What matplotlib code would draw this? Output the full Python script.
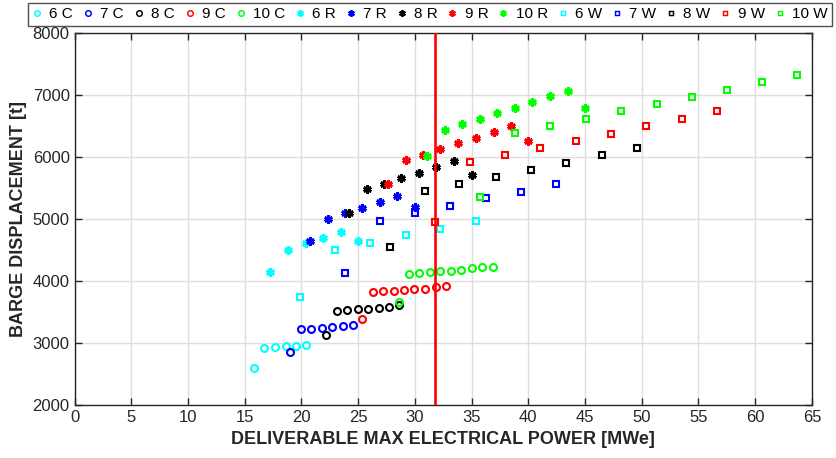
import matplotlib
matplotlib.use("Agg")
import matplotlib.pyplot as plt
from matplotlib.lines import Line2D

plt.rcParams['font.family'] = ['Liberation Sans', 'DejaVu Sans']

# ---- data ----
x6C = [15.82, 16.73, 17.69, 18.62, 19.55, 20.43]
y6C = [2600, 2930, 2940, 2950, 2960, 2970]
x7C = [19.02, 19.94, 20.85, 21.79, 22.72, 23.64, 24.55]
y7C = [2860, 3226, 3235, 3247, 3258, 3279, 3290]
x8C = [22.20, 23.17, 24.05, 24.99, 25.90, 26.84, 27.72, 28.63]
y8C = [3129, 3526, 3537, 3548, 3558, 3569, 3581, 3613]
x9C = [25.37, 26.29, 27.22, 28.14, 29.05, 29.96, 30.90, 31.84, 32.75]
y9C = [3392, 3823, 3839, 3848, 3860, 3871, 3881, 3903, 3924]
x10C = [28.58, 29.49, 30.40, 31.34, 32.25, 33.17, 34.10, 35.02, 35.93, 36.87]
y10C = [3666, 4118, 4129, 4145, 4171, 4161, 4177, 4215, 4226, 4235]

x6R = [17.26, 18.84, 20.38, 21.93, 23.47, 25.02]
y6R = [4155, 4505, 4618, 4703, 4795, 4655]
x7R = [20.76, 22.32, 23.87, 25.37, 26.90, 28.43, 29.99]
y7R = [4645, 5010, 5102, 5187, 5279, 5371, 5194]
x8R = [24.22, 25.76, 27.28, 28.81, 30.37, 31.90, 33.48, 35.04]
y8R = [5102, 5484, 5569, 5661, 5752, 5844, 5935, 5719]
x9R = [27.66, 29.20, 30.72, 32.25, 33.81, 35.40, 36.96, 38.48, 40.01]
y9R = [5565, 5952, 6042, 6134, 6226, 6316, 6408, 6500, 6263]
x10R = [31.08, 32.64, 34.16, 35.72, 37.28, 38.84, 40.36, 41.95, 43.48, 45.01]
y10R = [6021, 6440, 6532, 6618, 6710, 6800, 6892, 6984, 7069, 6800]

x6W = [19.85, 22.94, 26.05, 29.20, 32.20, 35.40]
y6W = [3742, 4510, 4623, 4742, 4848, 4968]
x7W = [23.84, 26.90, 30.05, 33.10, 36.28, 39.34, 42.48]
y7W = [4139, 4977, 5097, 5215, 5348, 5445, 5565]
x8W = [27.78, 30.90, 33.90, 37.16, 40.25, 43.33, 46.51, 49.57]
y8W = [4548, 5452, 5565, 5687, 5800, 5913, 6042, 6150]
x9W = [31.78, 34.87, 37.98, 41.07, 44.19, 47.33, 50.41, 53.54, 56.62]
y9W = [4961, 5929, 6042, 6155, 6268, 6381, 6510, 6623, 6747]
x10W = [35.72, 38.84, 41.92, 45.07, 48.18, 51.30, 54.44, 57.53, 60.62, 63.70]
y10W = [5365, 6397, 6510, 6624, 6742, 6855, 6977, 7085, 7214, 7327]

limit_power = 31.75

labels = ['6 C', '7 C', '8 C', '9 C', '10 C',
          '6 R', '7 R', '8 R', '9 R', '10 R',
          '6 W', '7 W', '8 W', '9 W', '10 W']
xs = [x6C, x7C, x8C, x9C, x10C, x6R, x7R, x8R, x9R, x10R,
      x6W, x7W, x8W, x9W, x10W]
ys = [y6C, y7C, y8C, y9C, y10C, y6R, y7R, y8R, y9R, y10R,
      y6W, y7W, y8W, y9W, y10W]
colors = ['#00FFFF', '#0000FF', '#000000', '#FF0000', '#00FF00'] * 3
star = (6, 2, 0)
markers = ['o'] * 5 + [star] * 5 + ['s'] * 5
sizes = [5.0] * 5 + [6.0] * 5 + [4.3] * 5
mews = [1.5] * 5 + [2.0] * 5 + [1.5] * 5

fig = plt.figure(figsize=(8.36, 4.58), dpi=100)
ax = fig.add_axes([0.0892, 0.115, 0.882, 0.812])

handles = []
for xv, yv, c, m, s, w, lab in zip(xs, ys, colors, markers, sizes, mews, labels):
    ax.plot(xv, yv, linestyle='none', marker=m, markersize=s,
            markerfacecolor='none' if m != star else c,
            markeredgecolor=c, markeredgewidth=w, zorder=3)
    handles.append(Line2D([], [], linestyle='none', marker=m,
                          markersize=s * 0.8,
                          markerfacecolor='none' if m != star else c,
                          markeredgecolor=c, markeredgewidth=w * 0.7,
                          label=lab))

ax.axvline(limit_power, color='#FF0000', linewidth=1.9, zorder=4)

ax.set_xlim(0, 65)
ax.set_ylim(2000, 8000)
ax.set_xticks(range(0, 66, 5))
ax.set_yticks(range(2000, 8001, 1000))
ax.grid(True, color='#dedede', linewidth=1.0)
ax.set_axisbelow(True)
ax.tick_params(direction='in', top=True, right=True, length=5,
               labelsize=12, width=1.0, color='#262626', labelcolor='#262626')
for sp in ax.spines.values():
    sp.set_color('#262626')
    sp.set_linewidth(1.0)

ax.set_xlabel('DELIVERABLE MAX ELECTRICAL POWER [MWe]', fontsize=13,
              fontweight='bold', color='#262626', labelpad=4)
ax.set_ylabel('BARGE DISPLACEMENT [t]', fontsize=13, fontweight='bold',
              color='#262626', labelpad=4)

leg = fig.legend(handles=handles, loc='lower left', ncol=15,
                 bbox_to_anchor=(28 / 836, 1 - 26 / 458, 804 / 836, 22 / 458),
                 mode='expand', fontsize=11, frameon=True, fancybox=False,
                 handlelength=0.6, handletextpad=0.5, columnspacing=0.3,
                 borderpad=0.3, borderaxespad=0)
leg.get_frame().set_edgecolor('#262626')
leg.get_frame().set_linewidth(1.0)

fig.savefig('out.png', dpi=100)
